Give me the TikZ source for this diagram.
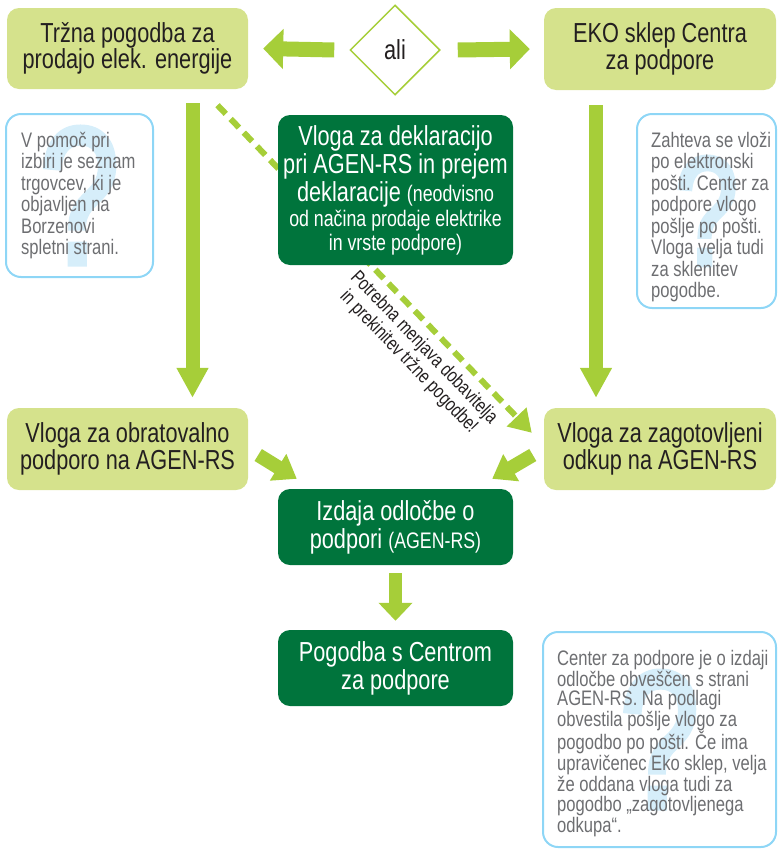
\documentclass[tikz,border=0pt]{standalone}
\usepackage{fontspec}
\setmainfont{Liberation Sans}[FakeStretch=0.79]
\newfontfamily\qmarkfont{Liberation Sans}[FakeStretch=0.72, FakeBold=3]
\usetikzlibrary{arrows.meta,shapes.geometric}

\definecolor{lightgreen}{HTML}{D5E28C}
\definecolor{arrowgreen}{HTML}{A6CE39}
\definecolor{darkgreen}{HTML}{00743C}
\definecolor{infoblue}{HTML}{8ED6F6}
\definecolor{qblue}{HTML}{D6EEFA}
\definecolor{infogrey}{HTML}{6D6E71}
\definecolor{textblack}{HTML}{231F20}

\newcommand\bigtxt{\fontsize{27.5}{25}\selectfont}
\newcommand\darktxt{\fontsize{27.5}{28}\selectfont}
\newcommand\smalltxt{\fontsize{22.5}{23}\selectfont}
\newcommand\infotxt{\fontsize{21}{21.5}\selectfont}
\newcommand\infotxtb{\fontsize{21}{19.2}\selectfont}
\newcommand\labeltxt{\fontsize{19.5}{21}\selectfont}

\begin{document}
\begin{tikzpicture}[x=1pt, y=-1pt,
    lightbox/.style={rectangle, rounded corners=12pt, fill=lightgreen, text=textblack, align=center, font=\bigtxt, inner sep=0pt},
    darkbox/.style={rectangle, rounded corners=12pt, fill=darkgreen, text=white, align=center, font=\darktxt, inner sep=0pt},
    infobox/.style={rectangle, rounded corners=15pt, draw=infoblue, line width=2pt, inner sep=0pt, text=qblue, font=\qmarkfont\fontsize{195}{195}\selectfont},
    infotext/.style={anchor=west, align=left, text=infogrey, font=\infotxt, inner sep=0pt},
    bigarrow/.style={arrowgreen, line width=14pt, -{Triangle[width=30pt,length=30pt]}},
    dasharrow/.style={arrowgreen, line width=6pt, dash pattern=on 12pt off 7pt, -{Triangle[width=26pt,length=22pt]}}]

  \useasboundingbox (0,0) rectangle (777,849);

  % 1. Svetlo zeleni okvirji in romb
  \node[lightbox, minimum width=241pt, minimum height=81pt] (trzna) at (127.5,48.5) {Tržna pogodba za\\prodajo elek. energije};
  \node[lightbox, minimum width=232pt, minimum height=82pt] (eko) at (660,49) {EKO sklep Centra\\za podpore};
  \node[diamond, draw=arrowgreen, line width=1.5pt, fill=white, minimum width=90pt, minimum height=90pt, inner sep=0pt, font=\bigtxt, text=textblack] (ali) at (395,50) {ali};
  \node[lightbox, minimum width=241pt, minimum height=82pt] (obrat) at (127.5,449) {Vloga za obratovalno\\podporo na AGEN-RS};
  \node[lightbox, minimum width=232pt, minimum height=82pt] (odkup) at (660,449) {Vloga za zagotovljeni\\odkup na AGEN-RS};

  % 2. Crtkana puscica (pod temnim okvirjem)
  \draw[dasharrow] ([shift={(90,16)}]trzna.south) -- ([shift={(-12,25)}]odkup.north west)
    node[sloped, below=7pt, pos=0.7, inner sep=0pt, align=center, font=\labeltxt, text=textblack] (menjava) {Potrebna menjava dobavitelja\\in prekinitev tržne pogodbe!};

  % 3. Temno zeleni okvirji
  \node[darkbox, minimum width=235pt, minimum height=150pt] (deklar) at (395.5,190) {Vloga za deklaracijo\\pri AGEN-RS in prejem\\deklaracije {\smalltxt (neodvisno}\\[-3pt]{\smalltxt od načina prodaje elektrike}\\[-4pt]{\smalltxt in vrste podpore)}};
  \node[darkbox, minimum width=235pt, minimum height=76pt] (izdaja) at (395.5,527) {Izdaja odločbe o\\podpori {\smalltxt (AGEN-RS)}};
  \node[darkbox, minimum width=235pt, minimum height=76pt] (pogodba) at (395.5,668) {Pogodba s Centrom\\za podpore};

  % 4. Okvirji z namigi
  \node[infobox, minimum width=147pt, minimum height=163pt] (pomoc) at (79.5,195.5) {?};
  \node[infotext] (pomoctxt) at ([xshift=16]pomoc.west) {V pomoč pri\\izbiri je seznam\\trgovcev, ki je\\objavljen na\\Borzenovi\\spletni strani.};
  \node[infobox, minimum width=139pt, minimum height=194pt, font=\qmarkfont\fontsize{155}{155}\selectfont] (zahteva) at (706.5,211) {?};
  \node[infotext] (zahtevatxt) at ([xshift=15, yshift=-6]zahteva.west) {Zahteva se vloži\\po elektronski\\pošti. Center za\\podpore vlogo\\pošlje po pošti.\\Vloga velja tudi\\za sklenitev\\pogodbe.};
  \node[infobox, minimum width=233pt, minimum height=215pt] (center) at (659.5,739.5) {?};
  \node[infotext, font=\infotxtb] (centertxt) at ([xshift=15, yshift=-4]center.west) {Center za podpore je o izdaji\\odločbe obveščen s strani\\AGEN-RS. Na podlagi\\obvestila pošlje vlogo za\\pogodbo po pošti. Če ima\\upravičenec Eko sklep, velja\\že oddana vloga tudi za\\pogodbo „zagotovljenega\\odkupa“.};

  % 5. Polne puscice
  \draw[bigarrow, line width=15pt, -{Triangle[width=39pt,length=20pt]}] ([xshift=-15]ali.west) -- ([xshift=15]trzna.east);
  \draw[bigarrow, line width=15pt, -{Triangle[width=39pt,length=20pt]}] ([xshift=17]ali.east) -- ([xshift=-14]eko.west);
  \draw[bigarrow] ([shift={(65,14)}]trzna.south) -- ([shift={(65,-10)}]obrat.north);
  \draw[bigarrow] ([shift={(-64,15)}]eko.south) -- ([shift={(-64,-10)}]odkup.north);
  \draw[bigarrow, -{Triangle[width=30pt,length=22pt]}] ([shift={(10,6)}]obrat.east) -- ([shift={(19,-10)}]izdaja.north west);
  \draw[bigarrow, -{Triangle[width=30pt,length=22pt]}] ([shift={(-11,6)}]odkup.west) -- ([shift={(-21,-10)}]izdaja.north east);
  \draw[bigarrow, line width=13pt, -{Triangle[width=33pt,length=18pt]}] ([yshift=-8]izdaja.south) -- ([yshift=9]pogodba.north);
\end{tikzpicture}
\end{document}
